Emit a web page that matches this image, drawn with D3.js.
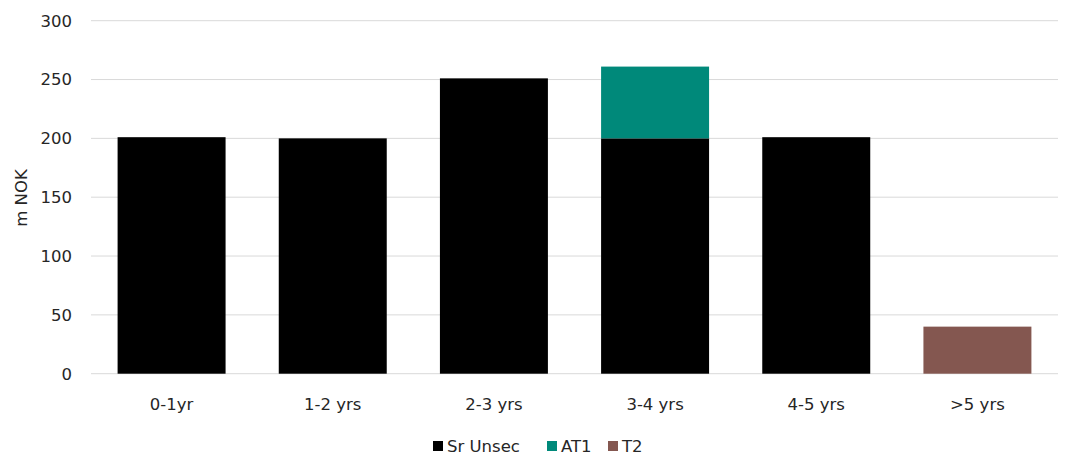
<!DOCTYPE html>
<html>
<head>
<meta charset="utf-8">
<script src="https://cdn.jsdelivr.net/npm/d3@7"></script>
<style>
  body { margin: 0; background: #fff; }
  svg { font-family: "DejaVu Sans", sans-serif; }
</style>
</head>
<body>
<svg id="chart" width="1067" height="457"></svg>
<script>
const categories = ["0-1yr", "1-2 yrs", "2-3 yrs", "3-4 yrs", "4-5 yrs", ">5 yrs"];
const seriesNames = ["Sr Unsec", "AT1", "T2"];
const srUnsec = [201, 200, 251, 200, 201, 0];
const at1 = [0, 0, 0, 61, 0, 0];
const t2 = [0, 0, 0, 0, 0, 40];
const yTicks = [0, 50, 100, 150, 200, 250, 300];
const colors = ["#000000", "#00897a", "#845750"];

const svg = d3.select("#chart");
const margin = { left: 91, right: 9, top: 20, bottom: 84 };
const W = 1067, H = 457;
const textColor = "#262626";
const fontSize = 16.5;

const x = d3.scaleBand().domain(categories).range([margin.left, W - margin.right]).paddingInner(0.33).paddingOuter(0.165);
const y = d3.scaleLinear().domain([0, 300]).range([H - margin.bottom + 0.7, margin.top + 0.7]);

// gridlines
svg.append("g").selectAll("line").data(yTicks).join("line")
  .attr("x1", margin.left).attr("x2", W - margin.right)
  .attr("y1", d => y(d)).attr("y2", d => y(d))
  .attr("stroke", "#d9d9d9").attr("stroke-width", 1);

// y tick labels
svg.append("g").selectAll("text").data(yTicks).join("text")
  .attr("x", 72).attr("y", d => y(d)).attr("dy", "0.36em")
  .attr("text-anchor", "end").attr("font-size", fontSize).attr("fill", textColor)
  .text(d => d);

// y axis title
svg.append("text")
  .attr("transform", `translate(27, 198) rotate(-90)`)
  .attr("text-anchor", "middle").attr("font-size", fontSize).attr("fill", textColor)
  .text("m NOK");

// stacked bars
const rows = categories.map((c, i) => ({ cat: c, "Sr Unsec": srUnsec[i], "AT1": at1[i], "T2": t2[i] }));
const stacked = d3.stack().keys(seriesNames)(rows);
svg.append("g").selectAll("g").data(stacked).join("g")
  .attr("fill", (d, i) => colors[i])
  .selectAll("rect").data(d => d.filter(p => p[1] > p[0])).join("rect")
  .attr("x", d => x(d.data.cat))
  .attr("width", x.bandwidth())
  .attr("y", d => y(d[1]))
  .attr("height", d => y(d[0]) - y(d[1]));

// x labels
svg.append("g").selectAll("text").data(categories).join("text")
  .attr("x", d => x(d) + x.bandwidth() / 2).attr("y", 410)
  .attr("text-anchor", "middle").attr("font-size", fontSize).attr("fill", textColor)
  .text(d => d);

// legend
const legendItems = [
  { name: "Sr Unsec", color: colors[0], x: 433 },
  { name: "AT1", color: colors[1], x: 547 },
  { name: "T2", color: colors[2], x: 608 }
];
const lg = svg.append("g").selectAll("g").data(legendItems).join("g")
  .attr("transform", d => `translate(${d.x}, 446)`);
lg.append("rect").attr("x", 0).attr("y", -5).attr("width", 10).attr("height", 10).attr("fill", d => d.color);
lg.append("text").attr("x", 14).attr("y", 0).attr("dy", "0.36em")
  .attr("font-size", fontSize).attr("fill", textColor).text(d => d.name);
</script>
</body>
</html>
